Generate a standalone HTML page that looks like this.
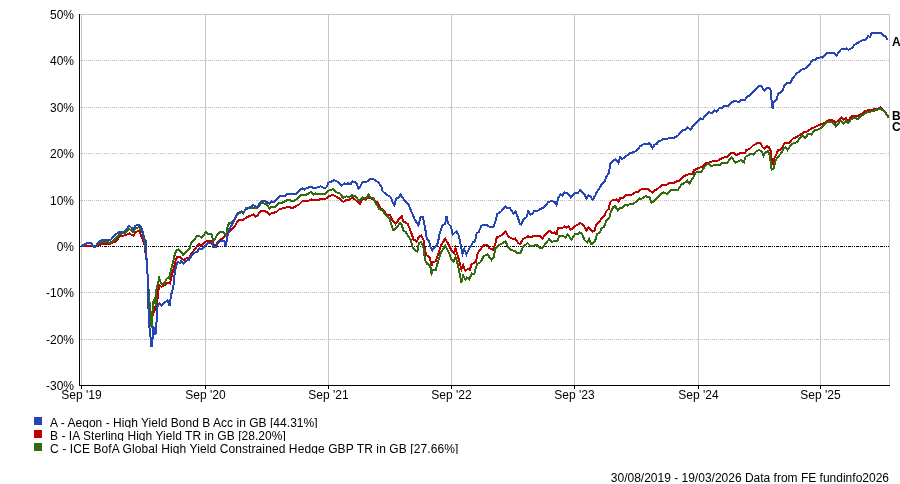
<!DOCTYPE html>
<html><head><meta charset="utf-8"><title>Chart</title>
<style>
html,body{margin:0;padding:0;background:#fff;}
body{width:900px;height:484px;overflow:hidden;position:relative;font-family:"Liberation Sans",Arial,sans-serif;font-size:12px;color:#000;}
svg{position:absolute;left:0;top:0;}
svg text{font-family:"Liberation Sans",Arial,sans-serif;font-size:12px;fill:#000;}
.lg{position:absolute;left:50px;height:12px;line-height:14px;overflow:hidden;white-space:nowrap;}
.sq{position:absolute;left:34px;width:8px;height:8px;}
.ft{position:absolute;right:11px;top:471px;line-height:14px;white-space:nowrap;}
</style></head><body>
<svg width="900" height="484" viewBox="0 0 900 484">
<g shape-rendering="crispEdges" fill="none">
<path d="M80 14.5H890" stroke="#c6c6c6"/>
<path d="M889.5 14V385" stroke="#c6c6c6"/>
<path d="M81.5 14V385" stroke="#c6c6c6"/>
<path d="M205.5 14V385" stroke="#c6c6c6"/>
<path d="M328.5 14V385" stroke="#c6c6c6"/>
<path d="M451.5 14V385" stroke="#c6c6c6"/>
<path d="M574.5 14V385" stroke="#c6c6c6"/>
<path d="M698.5 14V385" stroke="#c6c6c6"/>
<path d="M820.5 14V385" stroke="#c6c6c6"/>
<path d="M80 60.5H889" stroke="#c6c6c6" stroke-dasharray="3 1 1 1 1 1"/>
<path d="M80 107.5H889" stroke="#c6c6c6" stroke-dasharray="3 1 1 1 1 1"/>
<path d="M80 153.5H889" stroke="#c6c6c6" stroke-dasharray="3 1 1 1 1 1"/>
<path d="M80 200.5H889" stroke="#c6c6c6" stroke-dasharray="3 1 1 1 1 1"/>
<path d="M80 246.5H889" stroke="#000" stroke-dasharray="3 1 1 1 1 1"/>
<path d="M80 292.5H889" stroke="#c6c6c6" stroke-dasharray="3 1 1 1 1 1"/>
<path d="M80 339.5H889" stroke="#c6c6c6" stroke-dasharray="3 1 1 1 1 1"/>
<path d="M79.5 14V386" stroke="#000"/>
<path d="M79 385.5H890" stroke="#000"/>
<path d="M81.5 385V389" stroke="#000"/>
<path d="M205.5 385V389" stroke="#000"/>
<path d="M328.5 385V389" stroke="#000"/>
<path d="M451.5 385V389" stroke="#000"/>
<path d="M574.5 385V389" stroke="#000"/>
<path d="M698.5 385V389" stroke="#000"/>
<path d="M820.5 385V389" stroke="#000"/>
</g>
<g fill="none" stroke-width="2" stroke-linejoin="miter" shape-rendering="crispEdges">
<polyline stroke="#bd0000" points="81.0,246.3 90.0,246.0 97.0,246.0 102.0,243.8 109.8,244.0 116.0,241.3 119.9,236.3 124.9,235.4 129.3,233.5 133.2,235.7 136.0,231.8 139.4,230.7 142.2,238.5 144.4,244.0 146.5,260.0 147.6,275.0 148.6,292.0 150.3,311.3 151.4,317.0 153.0,314.7 154.7,308.0 156.0,310.0 157.5,299.0 158.6,289.0 159.2,284.7 161.4,286.9 164.8,285.2 167.2,283.0 169.8,283.5 171.5,277.4 173.7,268.5 175.9,259.6 177.1,257.3 180.4,257.3 183.8,260.1 186.0,258.4 189.3,257.3 191.6,253.4 194.9,249.0 198.8,243.9 201.1,245.6 203.8,242.8 207.2,240.6 211.7,241.1 213.9,245.6 216.1,244.5 218.4,241.1 220.6,239.5 222.0,239.1 229.3,231.3 235.4,225.2 237.6,220.7 243.2,219.6 248.8,216.2 253.3,214.6 255.5,216.8 257.7,215.1 259.9,211.8 262.2,210.6 266.6,211.8 269.4,214.6 271.7,212.9 276.1,212.3 279.5,209.0 284.5,207.9 289.0,206.7 291.8,208.4 299.0,204.5 302.4,201.2 307.9,201.2 311.3,199.5 319.4,199.6 320.6,198.5 326.1,198.5 329.5,195.7 333.4,195.1 338.4,197.9 343.4,201.8 346.2,200.2 349.6,199.6 352.4,197.4 355.1,199.6 359.6,204.1 363.0,198.5 365.8,199.6 368.5,197.4 373.0,199.6 376.0,201.7 378.0,202.9 380.5,208.4 384.4,210.6 386.0,214.6 390.0,215.1 392.2,220.1 395.5,224.0 398.3,220.1 401.7,216.2 403.3,221.3 407.8,224.0 411.2,232.4 413.4,239.3 416.7,241.5 418.6,237.5 421.2,235.3 423.4,239.5 424.6,247.3 426.2,255.1 429.6,257.3 431.8,265.7 432.4,262.3 435.7,261.2 438.5,252.9 441.3,245.0 445.2,238.5 448.0,243.4 451.3,250.1 454.1,253.4 455.5,248.4 456.9,252.9 459.2,260.7 461.4,269.6 463.1,265.1 465.3,270.7 467.5,269.0 469.8,269.6 471.4,264.6 475.9,261.8 477.6,253.4 481.2,248.5 483.4,245.2 487.3,244.8 489.0,248.0 492.9,250.0 495.1,244.6 496.8,237.4 501.8,235.2 505.5,231.3 508.5,236.8 513.0,239.1 515.2,238.5 518.0,243.0 520.2,244.1 523.0,239.1 528.0,236.3 530.8,237.4 533.6,235.7 539.8,235.7 542.5,238.5 545.9,234.0 549.2,230.7 552.4,233.4 554.3,232.3 556.7,234.2 557.8,228.3 563.0,227.6 564.5,226.4 566.5,227.6 568.4,226.4 570.4,229.5 572.8,228.3 575.1,226.0 580.2,223.2 582.6,224.0 584.9,227.6 586.5,230.3 588.5,227.6 592.8,231.5 594.7,230.3 595.9,225.2 599.5,221.3 601.8,218.1 604.1,216.3 606.3,211.2 608.6,209.0 610.2,202.3 612.5,200.1 616.4,199.5 618.6,201.7 620.3,197.8 623.1,197.8 626.4,195.0 632.0,194.5 635.4,192.3 638.1,191.7 640.9,189.5 648.3,189.3 652.3,192.4 654.5,190.2 656.7,189.6 662.3,184.6 666.8,184.6 669.0,182.9 674.0,182.9 676.8,181.3 679.0,180.7 682.9,176.8 686.3,175.1 689.1,174.0 692.4,174.0 694.1,170.1 697.5,168.4 701.9,166.8 705.3,163.4 709.7,162.3 714.2,160.6 716.4,161.2 719.8,159.5 722.6,157.8 727.6,156.7 730.9,153.4 733.7,152.8 736.6,155.1 740.5,152.9 745.0,152.9 746.2,150.1 749.5,149.0 752.9,145.7 756.8,143.4 760.7,143.4 762.3,146.8 764.6,149.0 766.8,146.2 769.0,147.3 770.7,150.7 771.8,160.2 772.9,163.0 774.6,157.4 776.9,153.5 778.0,150.1 780.8,149.6 783.0,146.2 784.7,142.9 789.1,142.9 793.0,138.4 797.5,136.7 802.0,133.4 804.8,131.7 807.0,131.5 809.8,129.5 813.1,127.8 818.1,125.6 822.1,123.9 824.8,123.2 827.7,120.5 832.4,120.0 835.7,122.4 838.5,120.7 841.3,117.4 843.5,119.6 845.8,118.0 848.2,121.0 851.3,116.3 858.0,115.7 862.5,113.5 865.8,110.7 870.3,110.1 874.8,109.2 878.1,109.0 880.4,107.3 882.6,109.0 885.9,113.0 888.7,117.5"/>
<polyline stroke="#33690f" points="81.0,246.2 84.7,244.3 88.0,243.0 91.2,243.3 93.6,247.2 96.0,246.5 99.8,241.5 106.0,241.5 110.0,243.0 114.8,239.6 119.9,233.8 124.9,232.9 129.3,229.0 133.2,231.8 136.0,227.9 138.8,227.3 142.0,231.0 144.4,238.0 146.5,258.0 147.8,278.0 149.0,296.0 150.8,315.8 151.6,328.0 153.0,302.4 154.7,299.0 155.9,305.7 156.4,290.0 158.1,283.0 159.2,278.0 160.9,283.5 163.7,284.1 166.5,279.1 168.1,277.4 169.2,278.5 170.9,270.7 172.6,264.0 174.3,256.2 175.9,251.2 178.2,249.5 181.0,251.7 183.2,255.1 187.1,251.2 189.9,247.8 191.0,243.4 194.9,239.0 197.3,235.7 199.0,235.7 201.3,237.7 206.0,232.3 207.7,233.7 211.3,233.7 212.3,236.7 213.3,241.3 215.0,239.3 217.3,234.7 219.7,231.7 223.3,231.7 225.7,235.3 226.3,236.7 226.7,230.0 227.7,226.7 229.0,223.0 231.7,222.3 232.7,221.3 235.0,219.0 237.0,214.5 241.5,212.2 243.2,213.3 246.0,208.4 250.0,208.4 255.5,208.4 258.0,207.0 261.6,202.8 266.6,204.5 269.4,208.4 271.7,206.7 275.6,206.7 278.9,202.8 281.2,203.4 285.1,201.2 289.0,199.5 291.8,201.2 294.5,200.6 299.0,197.3 301.8,194.5 306.8,194.5 311.1,191.8 313.3,194.6 315.5,193.5 325.0,194.0 328.4,190.7 333.4,189.0 336.7,192.3 340.1,193.5 342.9,197.9 346.2,196.3 349.0,197.4 351.8,195.1 355.7,196.3 359.1,201.3 362.4,197.4 365.8,198.5 368.5,194.6 370.8,197.9 373.6,198.5 375.8,203.5 379.3,209.0 382.7,210.6 385.5,215.1 388.8,217.3 391.1,223.5 393.3,230.2 396.6,227.9 400.0,222.9 401.7,224.6 403.3,230.2 405.6,231.9 409.5,238.0 410.6,239.5 412.8,248.4 417.3,251.7 419.0,242.8 421.2,242.3 423.4,247.3 425.1,260.1 427.3,264.0 430.1,265.1 431.5,273.5 432.9,270.2 435.7,270.2 437.4,264.0 440.7,252.9 445.2,245.6 448.5,251.7 451.3,259.0 453.6,261.8 455.5,256.8 457.5,263.5 459.7,274.1 461.4,282.4 463.1,275.7 465.3,279.6 467.0,277.4 469.2,279.1 472.0,273.5 474.2,274.1 477.0,264.0 480.4,262.3 483.7,256.2 487.6,254.5 491.5,260.1 493.8,256.8 495.5,248.5 498.5,245.2 502.9,243.0 505.7,241.3 507.9,247.4 511.3,250.2 515.2,250.8 517.4,253.0 520.8,252.5 523.0,246.9 525.2,245.2 527.5,243.0 530.3,245.8 537.0,245.2 539.8,248.0 542.0,248.5 545.9,243.0 549.2,239.1 551.6,242.1 554.7,240.9 557.5,241.3 559.0,236.2 563.3,235.8 565.7,237.8 567.4,234.2 571.6,239.7 575.1,233.8 577.5,234.2 579.7,232.3 581.8,233.4 584.5,240.1 587.3,242.5 589.2,239.3 591.2,244.4 593.2,243.3 595.5,239.7 597.1,233.8 599.8,232.7 601.4,228.3 603.8,227.2 606.5,220.5 609.7,216.8 610.8,211.8 613.0,207.3 615.3,206.2 617.5,210.1 619.2,208.4 622.5,207.9 625.3,205.1 627.5,205.6 629.8,204.0 633.1,204.0 637.6,200.6 639.8,198.4 641.5,199.0 645.4,196.2 649.5,197.4 651.5,203.0 654.0,201.0 657.3,198.0 661.7,193.0 664.0,192.4 667.3,194.1 671.2,189.6 677.9,190.2 681.3,184.6 684.6,182.9 687.4,180.7 689.4,183.5 693.0,177.9 695.2,172.9 698.0,171.8 701.4,171.8 704.2,167.3 708.1,163.4 711.4,166.2 714.2,165.1 719.8,165.1 722.0,162.9 727.0,162.9 731.5,157.3 735.4,162.9 739.9,160.6 741.1,160.2 743.9,162.4 745.6,156.8 751.2,153.5 753.4,154.6 755.6,151.8 759.0,150.1 761.8,151.3 763.5,155.7 765.7,151.8 767.9,151.3 770.2,155.7 770.9,166.9 771.8,169.7 773.8,168.0 775.2,161.3 778.0,156.8 781.9,152.4 783.5,148.5 785.2,147.3 787.5,150.1 790.8,145.1 793.0,143.4 796.9,142.3 800.3,137.3 802.5,135.6 805.3,137.9 808.1,134.0 811.5,134.5 814.2,130.6 818.1,129.5 821.5,127.8 824.3,124.5 827.1,122.2 832.7,122.2 835.7,126.3 838.5,123.5 840.2,120.7 843.5,123.5 845.8,120.7 848.0,123.5 850.8,119.6 854.7,117.4 857.5,119.1 862.5,115.2 866.4,112.4 871.4,111.3 875.9,110.1 880.4,109.0 883.1,110.1 885.9,113.5 888.7,117.9"/>
<polyline stroke="#2546b2" points="81.0,246.1 84.7,244.0 88.0,242.7 91.2,243.0 93.6,246.5 95.9,245.7 99.8,240.9 104.8,239.8 110.4,240.2 114.8,235.4 118.7,232.1 124.3,231.6 129.3,226.0 133.2,229.3 135.5,225.6 138.8,224.9 142.2,228.7 143.8,239.6 145.8,240.6 146.4,257.3 147.5,274.0 148.3,289.0 148.6,316.9 149.6,329.0 150.8,339.0 151.5,346.8 152.5,339.7 153.3,326.5 155.4,334.8 156.6,320.7 157.5,306.9 159.2,303.5 161.4,305.7 164.2,303.0 167.6,300.2 169.6,305.7 170.6,297.9 172.0,291.2 173.2,288.6 174.8,271.8 176.5,265.1 177.6,261.8 179.8,262.9 181.5,260.9 183.5,263.5 185.4,261.2 189.3,259.6 191.6,255.6 193.8,252.9 197.2,251.7 199.4,248.4 201.6,249.0 205.0,245.6 207.8,242.8 211.7,242.6 213.3,247.3 216.1,246.7 218.4,242.3 220.6,240.6 224.5,241.1 225.6,246.7 226.7,240.6 227.6,235.8 229.3,229.1 232.6,223.5 235.4,217.9 237.1,213.4 241.5,211.2 243.2,212.3 246.0,209.5 249.9,207.3 253.3,205.1 257.2,207.3 259.4,203.4 262.2,200.6 265.0,201.2 269.4,203.4 271.7,201.2 273.3,202.3 276.7,199.5 280.6,195.6 285.1,195.6 287.3,193.9 295.7,193.9 298.8,191.2 302.1,188.4 304.4,189.6 307.2,187.9 311.1,186.8 314.4,188.4 320.6,186.2 325.0,188.4 326.7,186.8 328.4,182.9 334.5,180.1 338.4,182.3 341.8,185.6 344.5,183.4 346.2,184.5 347.9,183.4 350.7,184.0 352.4,181.2 356.3,182.9 358.5,188.4 360.2,186.8 362.4,182.3 366.9,181.7 370.2,179.0 374.1,179.5 377.5,181.7 381.4,186.2 382.5,191.2 385.3,193.5 387.2,195.0 390.5,196.7 392.7,202.3 394.4,205.1 396.1,198.4 398.9,197.3 400.6,194.5 403.9,199.5 408.4,204.0 411.7,212.3 415.1,220.1 418.4,225.2 420.6,216.8 422.9,216.8 425.1,227.9 426.8,238.5 429.0,240.8 430.1,246.2 432.4,250.1 434.6,246.7 436.8,246.2 438.5,239.5 439.6,233.5 442.4,225.7 445.2,223.5 446.5,216.2 448.0,223.5 450.8,226.3 452.8,234.6 456.4,231.3 458.6,235.2 460.3,242.8 462.5,254.0 464.2,249.0 466.4,254.5 468.1,250.6 471.4,245.0 472.8,242.4 475.0,241.3 476.7,233.5 478.9,231.8 481.2,226.2 483.4,224.6 486.7,224.6 490.1,227.3 493.4,227.3 495.7,220.1 497.3,214.0 501.3,211.2 505.7,206.1 507.4,208.4 509.6,207.8 513.5,213.4 515.5,211.2 518.0,217.9 519.7,223.4 521.3,224.6 523.0,220.1 526.9,216.7 528.3,211.2 530.3,214.5 532.5,213.4 534.7,210.6 537.0,211.2 541.4,208.4 544.2,207.3 548.1,202.2 551.5,201.1 554.8,202.2 556.5,205.0 558.3,197.8 560.6,194.5 562.3,195.6 564.5,192.3 568.4,193.9 570.6,197.3 574.5,193.4 577.9,192.8 580.4,190.0 584.6,194.5 586.5,198.4 588.5,195.6 590.7,196.7 592.7,199.5 595.2,195.6 596.9,191.7 599.1,188.9 601.7,184.1 605.0,180.8 606.2,176.9 609.0,172.9 610.1,164.0 611.7,162.3 615.6,159.0 618.4,162.9 620.1,157.3 622.3,159.0 627.4,155.1 630.7,152.9 633.5,152.3 636.9,150.6 640.2,146.2 644.1,143.9 649.7,143.4 652.5,147.8 654.7,144.5 656.9,143.9 658.6,140.6 660.8,140.6 663.1,138.9 667.5,138.9 669.2,137.8 674.2,137.8 678.4,135.2 682.3,130.2 685.1,129.6 687.3,127.4 690.6,129.6 694.0,124.6 697.3,121.3 700.7,118.5 702.9,119.0 705.2,115.7 708.5,112.3 712.4,112.9 714.6,110.1 716.3,111.8 719.1,108.4 721.3,108.4 723.6,106.2 727.5,106.2 730.8,102.9 734.2,101.2 739.2,101.7 741.4,99.5 745.3,99.5 747.0,96.7 749.2,95.6 753.7,91.1 758.7,86.1 761.0,85.6 764.4,90.6 766.9,87.8 769.0,87.9 771.2,90.9 771.3,97.6 771.9,104.6 772.6,108.6 773.1,106.0 773.6,102.5 775.4,100.7 777.1,99.0 777.8,93.7 779.6,93.0 783.1,90.5 783.8,86.3 786.8,82.9 790.2,82.9 792.4,78.5 796.3,74.0 800.8,70.1 806.3,67.9 809.7,64.0 812.5,60.0 815.8,59.5 816.9,57.8 819.7,57.8 820.8,56.7 822.5,57.8 827.0,52.8 834.2,52.8 836.5,55.6 840.8,49.5 846.3,48.5 848.5,49.7 851.9,48.0 854.7,44.6 861.4,40.7 865.3,39.6 868.1,36.3 870.3,36.8 871.4,33.5 875.3,32.9 881.5,32.9 883.7,35.7 885.9,36.8 887.4,40.0"/>
</g>
<text x="74" y="19" text-anchor="end">50%</text>
<text x="74" y="65" text-anchor="end">40%</text>
<text x="74" y="112" text-anchor="end">30%</text>
<text x="74" y="158" text-anchor="end">20%</text>
<text x="74" y="205" text-anchor="end">10%</text>
<text x="74" y="251" text-anchor="end">0%</text>
<text x="74" y="297" text-anchor="end">-10%</text>
<text x="74" y="344" text-anchor="end">-20%</text>
<text x="74" y="390" text-anchor="end">-30%</text>
<text x="81.5" y="399" text-anchor="middle">Sep '19</text>
<text x="205.5" y="399" text-anchor="middle">Sep '20</text>
<text x="328.5" y="399" text-anchor="middle">Sep '21</text>
<text x="451.5" y="399" text-anchor="middle">Sep '22</text>
<text x="574.5" y="399" text-anchor="middle">Sep '23</text>
<text x="698.5" y="399" text-anchor="middle">Sep '24</text>
<text x="820.5" y="399" text-anchor="middle">Sep '25</text>
<text x="892" y="46" font-weight="bold">A</text>
<text x="892" y="120" font-weight="bold">B</text>
<text x="892" y="131" font-weight="bold">C</text>
</svg>
<div class="sq" style="top:417px;background:#2546b2"></div>
<div class="lg" style="top:416px;letter-spacing:0.03px">A - Aegon - High Yield Bond B Acc in GB [44.31%]</div>
<div class="sq" style="top:430px;background:#bd0000"></div>
<div class="lg" style="top:429px;letter-spacing:0.045px">B - IA Sterling High Yield TR in GB [28.20%]</div>
<div class="sq" style="top:443px;background:#33690f"></div>
<div class="lg" style="top:442px;letter-spacing:0.095px">C - ICE BofA Global High Yield Constrained Hedge GBP TR in GB [27.66%]</div>
<div class="ft">30/08/2019 - 19/03/2026 Data from FE fundinfo2026</div>
</body></html>
